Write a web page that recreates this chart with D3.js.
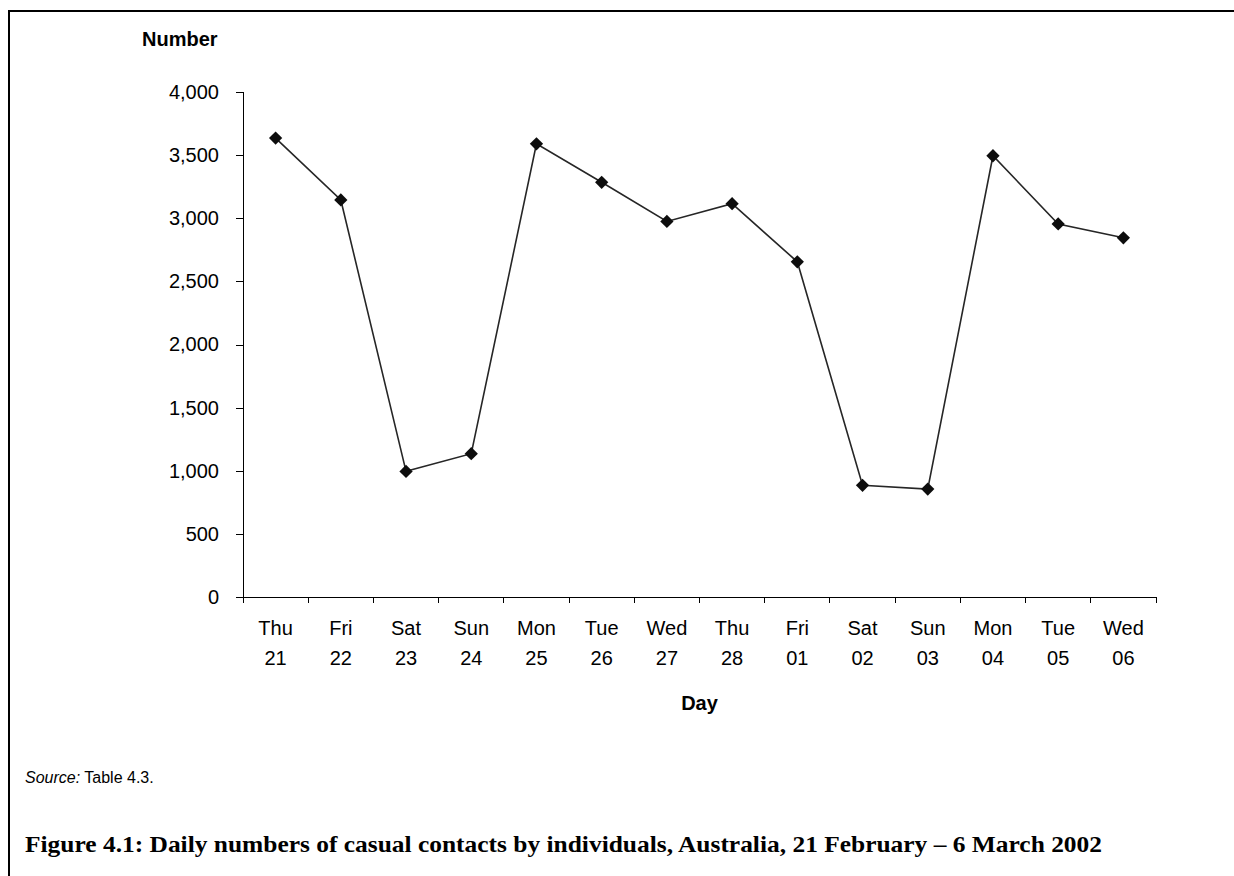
<!DOCTYPE html>
<html>
<head>
<meta charset="utf-8">
<script src="https://cdn.jsdelivr.net/npm/d3@7"></script>
<style>
  html, body { margin: 0; padding: 0; background: #fff; }
  svg { display: block; }
  .tick text { font-family: "Liberation Sans", Arial, sans-serif; font-size: 20px; fill: #000; }
</style>
</head>
<body>
<div id="chart"></div>
<script>
// Daily casual contacts, 21 Feb – 6 Mar 2002
const weekdays = ["Thu", "Fri", "Sat", "Sun", "Mon", "Tue", "Wed", "Thu", "Fri", "Sat", "Sun", "Mon", "Tue", "Wed"];
const dates    = ["21", "22", "23", "24", "25", "26", "27", "28", "01", "02", "03", "04", "05", "06"];
const contacts = [3635, 3145, 995, 1135, 3590, 3285, 2975, 3115, 2655, 885, 855, 3495, 2955, 2845];
const yTicks   = [0, 500, 1000, 1500, 2000, 2500, 3000, 3500, 4000];

const W = 1234, H = 876;
const margin = { top: 92, right: 78, bottom: 279, left: 243 };
const w = W - margin.left - margin.right, h = H - margin.top - margin.bottom;

const rows = weekdays.map((d, i) => ({ key: i, day: d, date: dates[i], v: contacts[i] }));

const svg = d3.select("#chart").append("svg")
  .attr("width", W).attr("height", H)
  .attr("viewBox", `0 0 ${W} ${H}`);

// frame: only top and left edges show in the source
svg.append("path")
  .attr("d", `M9,${H} V11 H${W}`)
  .attr("fill", "none").attr("stroke", "#000").attr("stroke-width", 2);

const g = svg.append("g").attr("transform", `translate(${margin.left},${margin.top})`);

const x = d3.scaleBand().domain(rows.map(d => d.key)).range([0, w]).padding(0);
const y = d3.scaleLinear().domain([0, 4000]).range([h, 0]);

// y axis
g.append("g")
  .call(d3.axisLeft(y).tickValues(yTicks).tickFormat(d3.format(",")).tickSize(7).tickPadding(17))
  .call(s => s.selectAll("path, line").attr("stroke", "#000").attr("shape-rendering", "crispEdges"));

// x axis: ticks on band edges, two-line labels in the middle
const xa = g.append("g").attr("transform", `translate(0,${h})`);
xa.append("line").attr("x1", 0).attr("x2", w).attr("stroke", "#000").attr("shape-rendering", "crispEdges");
xa.selectAll("line.edge").data(d3.range(rows.length + 1)).join("line").attr("class", "edge")
  .attr("x1", i => i < rows.length ? x(i) : w).attr("x2", i => i < rows.length ? x(i) : w)
  .attr("y1", 0).attr("y2", 6)
  .attr("stroke", "#000").attr("shape-rendering", "crispEdges");
const lab = xa.selectAll("g.tick").data(rows).join("g").attr("class", "tick")
  .attr("transform", d => `translate(${x(d.key) + x.bandwidth() / 2},0)`);
lab.append("text").attr("text-anchor", "middle").attr("y", 38).text(d => d.day);
lab.append("text").attr("text-anchor", "middle").attr("y", 68).text(d => d.date);

// series
const cx = d => x(d.key) + x.bandwidth() / 2;
g.append("path").datum(rows)
  .attr("fill", "none").attr("stroke", "#262626").attr("stroke-width", 1.6)
  .attr("d", d3.line().x(cx).y(d => y(d.v)));
g.selectAll("path.pt").data(rows).join("path").attr("class", "pt")
  .attr("transform", d => `translate(${cx(d)},${y(d.v)}) rotate(45)`)
  .attr("d", d3.symbol(d3.symbolSquare, 88))
  .attr("fill", "#0d0d0d");

// axis titles
svg.append("text")
  .attr("x", 142).attr("y", 46)
  .style("font-family", "'Liberation Sans', Arial, sans-serif").style("font-size", "20px").style("font-weight", "bold")
  .text("Number");
svg.append("text")
  .attr("x", margin.left + w / 2).attr("y", 710).attr("text-anchor", "middle")
  .style("font-family", "'Liberation Sans', Arial, sans-serif").style("font-size", "20px").style("font-weight", "bold")
  .text("Day");

// source + caption
const src = svg.append("text").attr("x", 25).attr("y", 783)
  .style("font-family", "'Liberation Sans', Arial, sans-serif").style("font-size", "16px");
src.append("tspan").style("font-style", "italic").text("Source:");
src.append("tspan").text(" Table 4.3.");

svg.append("text")
  .attr("x", 25).attr("y", 852)
  .attr("textLength", 1077).attr("lengthAdjust", "spacingAndGlyphs")
  .style("font-family", "'Liberation Serif', 'Times New Roman', serif").style("font-size", "23px").style("font-weight", "bold")
  .text("Figure 4.1: Daily numbers of casual contacts by individuals, Australia, 21 February – 6 March 2002");
</script>
</body>
</html>
